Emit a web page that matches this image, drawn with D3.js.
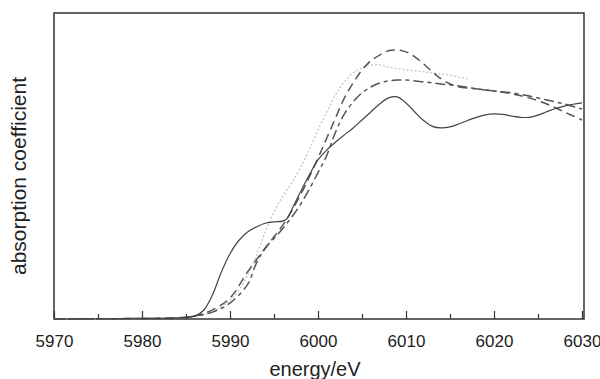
<!DOCTYPE html>
<html>
<head>
<meta charset="utf-8">
<script src="https://cdn.jsdelivr.net/npm/d3@7"></script>
<style>
  body{margin:0;background:#fff;}
  svg{display:block;}
</style>
</head>
<body>
<svg id="chart" width="600" height="379"></svg>
<script>
// energy (eV) + absorption for each spectrum
const solid_x=[5970,5980,5984,5986,5987,5988,5989,5990,5991,5992,5993,5994,5995,5996,5996.5,5997,5998,5999,6000,6001,6002,6003,6004,6005,6006,6007,6008,6009,6010,6011,6012,6013,6014,6015,6016,6017,6018,6019,6020,6021,6022,6023,6024,6025,6026,6027,6028,6029,6030];
const solid_y=[0,0.002,0.004,0.011,0.033,0.09,0.175,0.245,0.295,0.327,0.346,0.36,0.365,0.368,0.378,0.41,0.477,0.541,0.598,0.635,0.665,0.692,0.718,0.748,0.778,0.808,0.831,0.835,0.812,0.778,0.746,0.724,0.718,0.722,0.733,0.746,0.758,0.767,0.771,0.769,0.763,0.758,0.758,0.766,0.779,0.791,0.8,0.807,0.812];

const dash_x=[5970,5980,5984,5986,5988,5990,5992,5994,5996,5998,6000,6001,6002,6003,6004,6005,6006,6007,6008,6009,6010,6011,6012,6013,6014,6015,6016,6018,6020,6022,6024,6026,6028,6030];
const dash_y=[0,0.002,0.004,0.011,0.034,0.079,0.177,0.267,0.353,0.466,0.605,0.68,0.756,0.831,0.887,0.936,0.97,0.992,1.008,1.011,1.004,0.985,0.959,0.929,0.902,0.883,0.872,0.865,0.857,0.846,0.831,0.808,0.778,0.748];

const dashdot_x=[5970,5980,5984,5986,5988,5990,5992,5993,5994,5996,5998,6000,6001,6002,6003,6004,6005,6006,6007,6008,6009,6010,6012,6014,6016,6018,6020,6022,6024,6026,6028,6030];
const dashdot_y=[0,0.002,0.004,0.011,0.026,0.06,0.13,0.21,0.265,0.34,0.43,0.55,0.615,0.703,0.771,0.816,0.85,0.872,0.887,0.895,0.898,0.898,0.891,0.883,0.876,0.865,0.857,0.85,0.838,0.823,0.808,0.789];

const dot_x=[5970,5980,5984,5986,5988,5990,5991,5992,5993,5994,5995,5996,5997,5998,5999,6000,6001,6002,6003,6004,6005,6006,6007,6008,6010,6012,6014,6016,6017];
const dot_y=[0,0.002,0.004,0.011,0.026,0.071,0.109,0.165,0.24,0.327,0.402,0.462,0.511,0.568,0.635,0.711,0.778,0.842,0.891,0.925,0.944,0.955,0.955,0.947,0.936,0.929,0.921,0.91,0.902];

const x_ticks=[5970,5980,5990,6000,6010,6020,6030];
const x_minor=[5975,5985,5995,6005,6015,6025];

const svg=d3.select("#chart");

const plot_left=54, plot_right=584, plot_top=13, plot_bottom=319;

const x=d3.scaleLinear().domain([5970,6030]).range([54,582]);
const y=d3.scaleLinear().domain([0,1.15]).range([plot_bottom,plot_top]);

// frame
svg.append("rect")
    .attr("x",plot_left)
    .attr("y",plot_top)
    .attr("width",plot_right-plot_left)
    .attr("height",plot_bottom-plot_top)
    .attr("fill","none")
    .attr("stroke","#333")
    .attr("stroke-width",1.5);

// ticks, pointing inside
const xAxis=d3.axisBottom(x).tickValues(x_ticks).tickSize(-8).tickFormat(d3.format("d"));
const gx=svg.append("g").attr("transform","translate(0,"+plot_bottom+")").call(xAxis);
gx.select(".domain").remove();
gx.selectAll(".tick line").attr("stroke","#333").attr("stroke-width",1.2);
gx.selectAll(".tick text")
    .attr("y",28)
    .attr("dy",0)
    .attr("font-family","Liberation Sans, Arial, sans-serif")
    .attr("font-size",17)
    .attr("fill","#222");

const gm=svg.append("g").attr("transform","translate(0,"+plot_bottom+")")
    .call(d3.axisBottom(x).tickValues(x_minor).tickSize(-5).tickFormat(""));
gm.select(".domain").remove();
gm.selectAll(".tick line").attr("stroke","#333").attr("stroke-width",1.2);

// axis titles
svg.append("text")
    .attr("x",315)
    .attr("y",376)
    .attr("text-anchor","middle")
    .attr("font-family","Liberation Sans, Arial, sans-serif")
    .attr("font-size",20)
    .attr("fill","#222")
    .text("energy/eV");

svg.append("text")
    .attr("transform","translate(26,176) rotate(-90)")
    .attr("text-anchor","middle")
    .attr("font-family","Liberation Sans, Arial, sans-serif")
    .attr("font-size",21)
    .attr("fill","#222")
    .text("absorption coefficient");

// spectra
function draw_curve(xs,ys,color,width,dash){
    const line=d3.line()
        .x((d,i)=>x(xs[i]))
        .y(d=>y(d))
        .curve(d3.curveCatmullRom.alpha(0.5));
    svg.append("path")
        .datum(ys)
        .attr("d",line)
        .attr("fill","none")
        .attr("stroke",color)
        .attr("stroke-width",width)
        .attr("stroke-dasharray",dash);
}

draw_curve(dot_x,dot_y,"#c4c4c4",1.3,"2,2");
draw_curve(dashdot_x,dashdot_y,"#555",1.5,"10,4,4,4");
draw_curve(dash_x,dash_y,"#555",1.5,"9,5");
draw_curve(solid_x,solid_y,"#444",1.2,null);
</script>
</body>
</html>
